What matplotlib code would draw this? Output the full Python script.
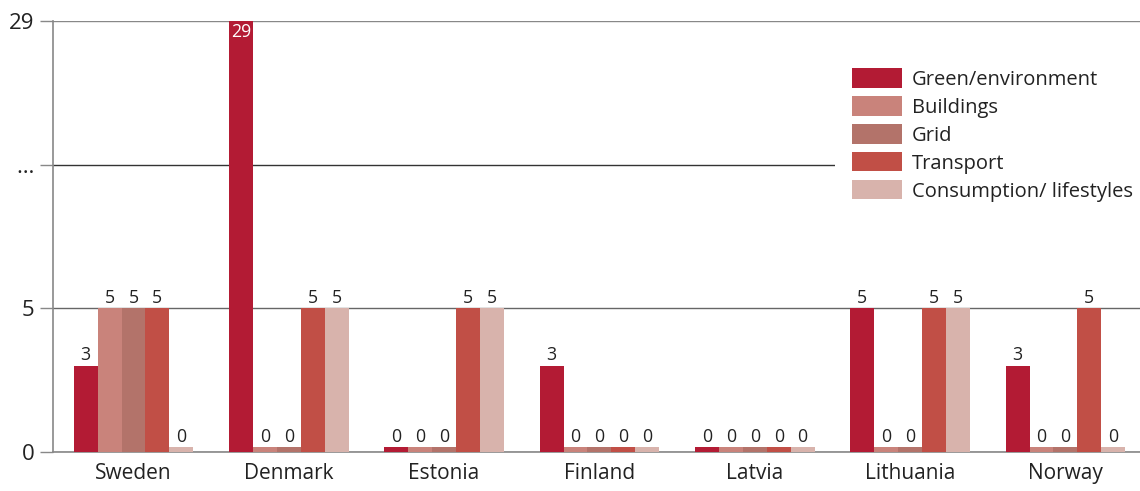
import numpy as np
import matplotlib
matplotlib.use("Agg")
import matplotlib.pyplot as plt

plt.rcParams['font.family'] = ['Open Sans', 'DejaVu Sans']

countries = ['Sweden', 'Denmark', 'Estonia', 'Finland', 'Latvia', 'Lithuania', 'Norway']
series = ['Green/environment', 'Buildings', 'Grid', 'Transport', 'Consumption/ lifestyles']
green = [3, 29, 0, 3, 0, 5, 3]
buildings = [5, 0, 0, 0, 0, 0, 0]
grid = [5, 0, 0, 0, 0, 0, 0]
transport = [5, 5, 5, 0, 0, 5, 5]
consumption = [0, 5, 5, 0, 0, 5, 0]
colors = ['#b31b34', '#c9837b', '#b3736a', '#c14f46', '#d8b3ac']

y_ticks = [0, 5, 17, 29]
y_ticklabels = ['0', '5', '…', '29']

# broken axis: linear up to 5, everything above compressed into the top part
def fwd(v):
    v = np.asarray(v, dtype=float)
    return np.where(v <= 5, v, 5 + (v - 5) * 10 / 24)

def inv(p):
    p = np.asarray(p, dtype=float)
    return np.where(p <= 5, p, 5 + (p - 5) * 24 / 10)

fig = plt.figure(figsize=(11.4, 4.91), dpi=100)
ax = fig.add_axes([53 / 1140, 1 - 452 / 491, 1 - 53 / 1140, (452 - 21) / 491])
ax.set_yscale('function', functions=(fwd, inv))

x = np.arange(len(countries))
w = 0.154
stub = 0.17  # zero values shown as a thin strip
data = [green, buildings, grid, transport, consumption]
for i, (vals, c, name) in enumerate(zip(data, colors, series)):
    xs = x + (i - 2) * w
    heights = np.maximum(np.array(vals, dtype=float), stub)
    ax.bar(xs, heights, width=w, color=c, label=name, zorder=3)
    for xi, v, h in zip(xs, vals, heights):
        if v >= 29:
            ax.annotate(str(v), (xi, v), xytext=(0, -1.5), textcoords='offset points',
                        ha='center', va='top', fontsize=12.8, color='white', zorder=4)
        else:
            ax.annotate(str(v), (xi, h), xytext=(0, 1), textcoords='offset points',
                        ha='center', va='bottom', fontsize=12.8, color='#222222', zorder=4)

ax.set_xlim(-0.518, 6.48)
ax.set_ylim(0, 29)
ax.set_yticks(y_ticks)
ax.set_yticklabels(y_ticklabels)
ax.set_xticks(x)
ax.set_xticklabels(countries)
ax.tick_params(axis='y', length=9.5, width=1, color='#888888', pad=4, labelsize=16, labelcolor='#222222')
ax.tick_params(axis='x', length=0, pad=8, labelsize=15, labelcolor='#222222')
ax.grid(axis='y', color='#666666', lw=1, zorder=1)
gl = ax.get_ygridlines()
gl[3].set_color('#888888')
gl[2].set_color('#333333')

for s in ['top', 'right']:
    ax.spines[s].set_visible(False)
ax.spines['left'].set_color('#888888')
ax.spines['bottom'].set_color('#888888')
ax.spines['left'].set_linewidth(1.2)
ax.spines['bottom'].set_linewidth(1.2)

leg = ax.legend(loc='upper left', bbox_to_anchor=(0.7194, 0.93), fontsize=14.5,
                handlelength=2.5, handleheight=1.1, labelspacing=0.32,
                handletextpad=0.45, borderpad=0.85, borderaxespad=0,
                frameon=True, fancybox=False, facecolor='white', edgecolor='none',
                framealpha=1)
for t in leg.get_texts():
    t.set_color('#222222')
leg.set_zorder(5)

fig.savefig('out.png', dpi=100)
